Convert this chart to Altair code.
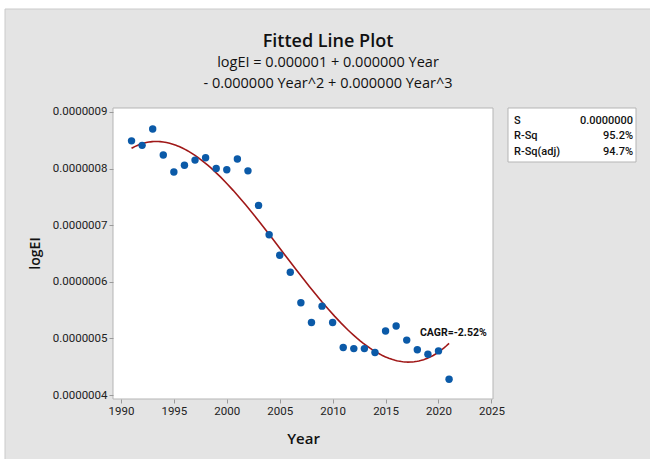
import altair as alt
import pandas as pd

# Observed values (logEI, in units of 1e-6) by year
years = list(range(1991, 2022))
log_ei_e6 = [0.849, 0.841, 0.870, 0.824, 0.794, 0.806, 0.815, 0.819, 0.800, 0.798,
             0.817, 0.796, 0.735, 0.683, 0.647, 0.617, 0.563, 0.528, 0.557, 0.528,
             0.484, 0.482, 0.482, 0.475, 0.513, 0.522, 0.497, 0.480, 0.472, 0.478,
             0.428]

title_lines = ["Fitted Line Plot", "logEI = 0.000001 + 0.000000 Year",
               "- 0.000000 Year^2 + 0.000000 Year^3"]
stat_names = ["S", "R-Sq", "R-Sq(adj)"]
stat_values = ["0.0000000", "95.2%", "94.7%"]
cagr_label = "CAGR=-2.52%"

x_ticks = [1990, 1995, 2000, 2005, 2010, 2015, 2020, 2025]
y_ticks = [0.0000004, 0.0000005, 0.0000006, 0.0000007, 0.0000008, 0.0000009]

df = pd.DataFrame({"Year": years, "logEI": [v * 1e-6 for v in log_ei_e6]})

W, H = 380, 291
LEFT, TOP = 113, 108
FONT = "Open Sans"
TICK_FONT = "Roboto"
GRAY_BG = "#e4e4e4"

x_scale = alt.Scale(domain=[1989.25, 2025.15], nice=False, zero=False)
y_scale = alt.Scale(domain=[0.000000393, 0.000000907], nice=False, zero=False)

x_enc = alt.X("Year:Q", scale=x_scale, axis=alt.Axis(
    values=x_ticks, format="d", title="Year", grid=False, domain=False,
    zindex=1, tickColor="#9a9a9a", tickSize=4, labelFont=TICK_FONT,
    labelFontSize=11.5, labelColor="#222", labelPadding=2, titleFont=FONT,
    titleFontSize=15, titleFontWeight=600, titleColor="#111", titleY=44,
    titleBaseline="alphabetic"))
y_enc = alt.Y("logEI:Q", scale=y_scale, axis=alt.Axis(
    values=y_ticks, format=".7f", title="logEI", grid=False, domain=False,
    zindex=1, tickColor="#9a9a9a", tickSize=4, labelFont=TICK_FONT,
    labelFontSize=11.5, labelColor="#222", labelPadding=2, titleFont=FONT,
    titleFontSize=14, titleFontWeight=600, titleColor="#111", titleX=-78,
    titleY=145, titleBaseline="middle", titleAlign="center"))

base = alt.Chart(df)
# Single-row source for the annotation marks
one = alt.Chart(pd.DataFrame({"k": [0]}))

# Gray panel behind everything
panel = one.mark_rect(fill=GRAY_BG, stroke="#cacaca", strokeWidth=1).encode(
    x=alt.value(5 - LEFT), x2=alt.value(650 - LEFT + 2),
    y=alt.value(9 - TOP), y2=alt.value(459 - TOP + 2))

# White plotting area
plot_bg = one.mark_rect(fill="white", stroke="#b5b5b5", strokeWidth=1).encode(
    x=alt.value(0), x2=alt.value(W), y=alt.value(0), y2=alt.value(H))

points = base.mark_circle(size=55, color="#0b5aa8", opacity=1).encode(
    x=x_enc, y=y_enc)

# Cubic least-squares fit
fit = base.transform_regression(
    "Year", "logEI", method="poly", order=3
).mark_line(color="#a01818", strokeWidth=1.6).encode(x="Year:Q", y="logEI:Q")

cagr = one.mark_text(
    text=cagr_label, font=TICK_FONT, fontSize=10.5, fontWeight="bold",
    color="#111"
).encode(x=alt.datum(2021.4), y=alt.datum(0.000000510))

# Title block
title_marks = []
for text, ypos, size, weight in zip(title_lines, [47, 67, 88],
                                    [18, 14.5, 14.5], [600, 500, 500]):
    title_marks.append(one.mark_text(
        text=text, font=FONT, fontSize=size, fontWeight=weight, color="#111",
        baseline="alphabetic", align="center"
    ).encode(x=alt.value(328 - LEFT), y=alt.value(ypos - TOP)))

# Summary statistics box
stat_box = one.mark_rect(fill="white", stroke="#b5b5b5", strokeWidth=1).encode(
    x=alt.value(508 - LEFT), x2=alt.value(636 - LEFT),
    y=alt.value(0), y2=alt.value(54))
stat_marks = []
for i, (name, val) in enumerate(zip(stat_names, stat_values)):
    ypos = 12.5 + i * 15.5
    stat_marks.append(one.mark_text(
        text=name, font=TICK_FONT, fontSize=11, fontWeight=500, align="left",
        baseline="middle", color="#111"
    ).encode(x=alt.value(514 - LEFT), y=alt.value(ypos)))
    stat_marks.append(one.mark_text(
        text=val, font=TICK_FONT, fontSize=11, fontWeight=500, align="right",
        baseline="middle", color="#111"
    ).encode(x=alt.value(633 - LEFT), y=alt.value(ypos)))

chart = alt.layer(
    panel, plot_bg, fit, points, cagr, *title_marks, stat_box, *stat_marks
).properties(
    width=W, height=H,
    autosize=alt.AutoSizeParams(type="none"),
    padding={"left": LEFT, "top": TOP, "right": 650 - LEFT - W,
             "bottom": 459 - TOP - H},
    background="white",
).configure_view(stroke=None)

chart.save("out.html", embed_options={"renderer": "svg", "actions": False})
